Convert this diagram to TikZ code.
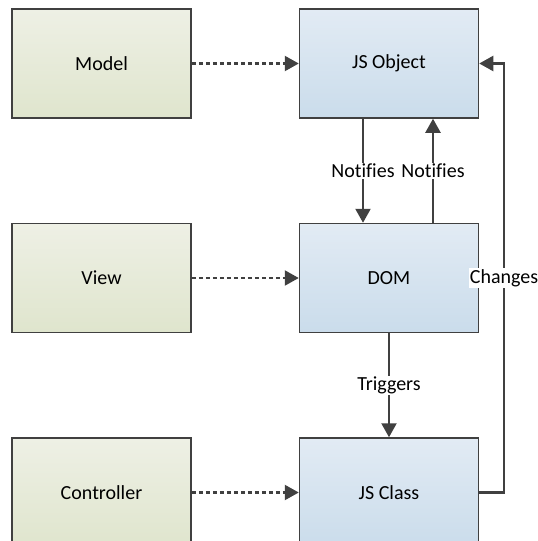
\documentclass[tikz,border=0pt]{standalone}
\usepackage{fontspec}
\setmainfont{Carlito}[Ligatures=NoCommon]
\usetikzlibrary{arrows.meta,positioning}

\begin{document}
\begin{tikzpicture}[x=1pt, y=-1pt, >={Triangle[length=14pt, width=15pt]},
    font=\fontsize{20}{24}\selectfont,
    mvc/.style={draw=line, line width=1.5pt, top color=greentop, bottom color=greenbot,
      minimum width=179pt, minimum height=109pt, inner sep=0pt},
    obj/.style={mvc, top color=bluetop, bottom color=bluebot},
    flow/.style={->, draw=line, line width=2.2pt},
    maps/.style={flow, dash pattern=on 4.5pt off 2.5pt},
    lbl/.style={fill=white, inner sep=1pt, text=black}]
  \definecolor{line}{HTML}{404040}
  \definecolor{greentop}{HTML}{EEF0E5}
  \definecolor{greenbot}{HTML}{DFE5CD}
  \definecolor{bluetop}{HTML}{E2EBF4}
  \definecolor{bluebot}{HTML}{CADCEB}
  \clip (0,0) rectangle (538,541);
  \fill[white] (0,0) rectangle (538,541);

  % right column
  \node[obj] (jsobj) at (389,63.5) {JS Object};
  \node[obj, below=104pt of jsobj] (dom) {DOM};
  \node[obj, below=104pt of dom] (jsclass) {JS Class};

  % left column
  \node[mvc, left=107pt of jsobj] (model) {Model};
  \node[mvc, left=107pt of dom] (view) {View};
  \node[mvc, left=107pt of jsclass] (ctrl) {Controller};

  \draw[maps] (model) -- (jsobj);
  \draw[maps] (view) -- (dom);
  \draw[maps] (ctrl) -- (jsclass);

  \draw[flow] ([xshift=-26pt]jsobj.south) -- node[lbl] {Notifies} ([xshift=-26pt]dom.north);
  \draw[flow] ([xshift=44pt]dom.north) -- node[lbl] {Notifies} ([xshift=44pt]jsobj.south);
  \draw[flow] (dom) -- node[lbl] {Triggers} (jsclass);

  \coordinate (rail) at (504,0);
  \draw[flow] (jsclass.east) -- (jsclass.east -| rail) |- node[lbl, pos=0.25] {Changes} (jsobj.east);
\end{tikzpicture}
\end{document}
